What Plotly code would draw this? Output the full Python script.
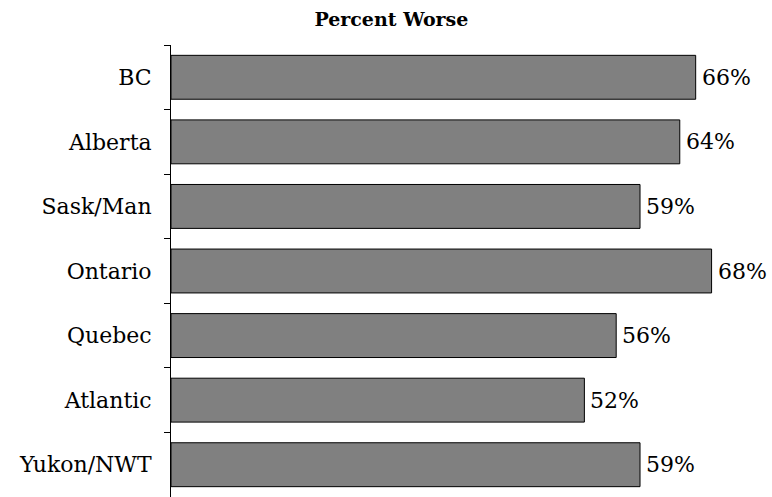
import plotly.graph_objects as go

# Regions and share reporting "worse"
regions = ["BC", "Alberta", "Sask/Man", "Ontario", "Quebec", "Atlantic", "Yukon/NWT"]
pct_worse = [66, 64, 59, 68, 56, 52, 59]

FONT = "DejaVu Serif"
LABEL_SIZE = 22

fig = go.Figure(
    go.Bar(
        x=pct_worse,
        y=regions,
        orientation="h",
        width=0.68,
        marker=dict(color="#808080", line=dict(color="#000000", width=1)),
        hoverinfo="skip",
    )
)

# Value labels just past the end of each bar
for region, v in zip(regions, pct_worse):
    fig.add_annotation(
        x=v,
        y=region,
        text=f"{v}%",
        showarrow=False,
        xanchor="left",
        yanchor="middle",
        xshift=4,
        font=dict(family=FONT, size=LABEL_SIZE, color="#000000"),
    )

fig.update_layout(
    width=772,
    height=497,
    margin=dict(l=171, r=0, t=45, b=0),
    paper_bgcolor="white",
    plot_bgcolor="white",
    showlegend=False,
    title=dict(
        text="<b>Percent Worse</b>",
        x=0.507,
        xanchor="center",
        y=0.961,
        yanchor="middle",
        font=dict(family=FONT, size=19, color="#000000"),
    ),
    font=dict(family=FONT, color="#000000"),
)

fig.update_xaxes(
    range=[0, 75.6],
    visible=False,
    showgrid=False,
    zeroline=False,
)

fig.update_yaxes(
    categoryorder="array",
    categoryarray=regions,
    range=[6.5, -0.5],
    showline=True,
    linecolor="#000000",
    linewidth=1,
    ticks="outside",
    tickson="boundaries",
    ticklen=6,
    tickwidth=1,
    tickcolor="#000000",
    ticklabelstandoff=14,
    tickfont=dict(family=FONT, size=LABEL_SIZE, color="#000000"),
    showgrid=False,
    zeroline=False,
)

fig.write_html("out.html")
